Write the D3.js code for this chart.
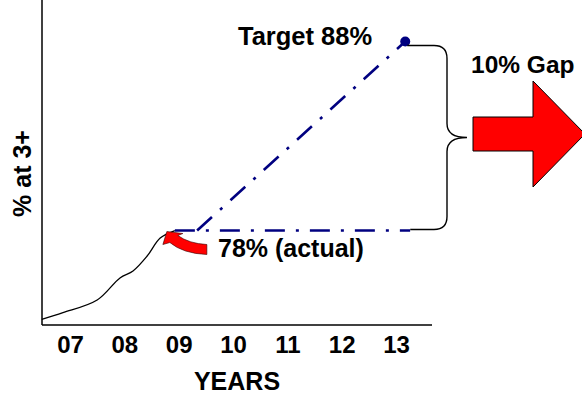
<!DOCTYPE html>
<html>
<head>
<meta charset="utf-8">
<script src="https://cdn.jsdelivr.net/npm/d3@7/dist/d3.min.js"></script>
<style>
  html, body { margin: 0; padding: 0; background: #fff; }
  svg { display: block; }
  text { font-family: Arial, "Liberation Sans", Helvetica, sans-serif; font-weight: bold; fill: #000; }
</style>
</head>
<body>
<svg id="chart" width="582" height="397"></svg>
<script>
// Years on the horizontal axis and their labels
const years = [2007, 2008, 2009, 2010, 2011, 2012, 2013];
const yearLabels = ["07", "08", "09", "10", "11", "12", "13"];

// Observed trend of the share at level 3+ (year, percent)
const trendYears = [2006.48, 2006.87, 2007.50, 2007.92, 2008.16, 2008.42, 2008.66, 2008.93];
const trendValues = [73.3, 73.65, 74.32, 75.49, 75.86, 76.65, 77.6, 78.0];

// Actual and target figures
const actualValue = 78;
const targetValue = 88;
const projectionStartYear = 2009.34;
const targetYear = 2013.17;
const flatEndYear = 2013.26;

const svg = d3.select("#chart");

const x = d3.scaleLinear().domain([2007, 2013]).range([70, 396]);
const y = d3.scaleLinear().domain([73, 90.2]).range([325, 0]);

const navy = "#000080";
const dashPattern = "20,11,3,11";

// Axis frame
svg.append("line").attr("x1", 42).attr("x2", 42).attr("y1", 0).attr("y2", 325)
  .attr("stroke", "#000").attr("stroke-width", 1.5);
svg.append("line").attr("x1", 42).attr("x2", 432).attr("y1", 325).attr("y2", 325)
  .attr("stroke", "#000").attr("stroke-width", 1.5);

// Year ticks
const xAxis = d3.axisBottom(x)
  .tickValues(years)
  .tickSize(0)
  .tickPadding(11)
  .tickFormat((d, i) => yearLabels[i]);
const gx = svg.append("g").attr("transform", "translate(0,325)").call(xAxis);
gx.select(".domain").remove();
gx.selectAll("text")
  .attr("font-size", 24)
  .attr("font-family", "Arial, 'Liberation Sans', sans-serif")
  .attr("font-weight", "bold")
  .attr("fill", "#000");

// Axis titles
svg.append("text").attr("x", 237).attr("y", 390).attr("text-anchor", "middle")
  .attr("font-size", 25).text("YEARS");
svg.append("text").attr("transform", "translate(31,173.5) rotate(-90)")
  .attr("text-anchor", "middle").attr("font-size", 25).text("% at 3+");

// Trend curve
const trend = trendYears.map((t, i) => [t, trendValues[i]]);
svg.append("path")
  .datum(trend)
  .attr("fill", "none")
  .attr("stroke", "#000")
  .attr("stroke-width", 1.3)
  .attr("d", d3.line().x(d => x(d[0])).y(d => y(d[1])).curve(d3.curveCatmullRom.alpha(0.5)));

const ax = x(trendYears[trendYears.length - 1]);
const ay = y(actualValue);

// Flat projection at the actual value
svg.append("path")
  .attr("fill", "none").attr("stroke", navy).attr("stroke-width", 2.6)
  .attr("stroke-dasharray", dashPattern)
  .attr("d", `M${ax},${ay}H${x(flatEndYear)}`);

// Projection towards target
svg.append("path")
  .attr("fill", "none").attr("stroke", navy).attr("stroke-width", 2.6)
  .attr("stroke-dasharray", dashPattern)
  .attr("d", `M${x(projectionStartYear)},${ay}L${x(targetYear)},${y(targetValue)}`);

// Target marker
svg.append("circle").attr("cx", x(targetYear)).attr("cy", y(targetValue)).attr("r", 5)
  .attr("fill", navy);

// Brace spanning the gap
const bTop = y(targetValue) + 4;
const bBot = y(actualValue) - 1;
const bMid = (bTop + bBot) / 2;
const bx0 = x(targetYear) + 2, bxv = 447, bxt = 467, br = 13;
svg.append("path")
  .attr("fill", "none").attr("stroke", "#000").attr("stroke-width", 1.4)
  .attr("d",
    `M${bx0},${bTop}H${bxv - br}Q${bxv},${bTop} ${bxv},${bTop + br}` +
    `V${bMid - 14}Q${bxv},${bMid} ${bxt},${bMid}` +
    `Q${bxv},${bMid} ${bxv},${bMid + 14}` +
    `V${bBot - br}Q${bxv},${bBot} ${bxv - br},${bBot}H${bx0 + 3}`);

// Big gap arrow
const gapArrow = [[473, 117], [533, 117], [533, 81], [585, 134], [533, 187], [533, 151], [473, 151]];
svg.append("path")
  .attr("d", d3.line()(gapArrow) + "Z")
  .attr("fill", "#ff0000").attr("stroke", "#000").attr("stroke-width", 1);

// Small curved arrow pointing at the actual value
svg.append("path")
  .attr("fill", "#ff0000").attr("stroke", "#300").attr("stroke-width", 0.6)
  .attr("d",
    `M${ax + 3},${ay + 5}` +
    `Q${ax + 14},${ay + 13} ${ax + 32},${ay + 14}` +
    `L${ax + 32},${ay + 24}` +
    `Q${ax + 8},${ay + 23} ${ax - 5},${ay + 12}` +
    `L${ax - 12},${ay + 14}` +
    `L${ax - 8},${ay + 1}` +
    `L${ax + 8},${ay + 3}Z`);

// Annotations
svg.append("text").attr("x", 238).attr("y", 45).attr("font-size", 25.5).text("Target 88%");
svg.append("text").attr("x", 471).attr("y", 73).attr("font-size", 24.5).text("10% Gap");
svg.append("text").attr("x", 218).attr("y", 257).attr("font-size", 25).text("78% (actual)");
</script>
</body>
</html>
